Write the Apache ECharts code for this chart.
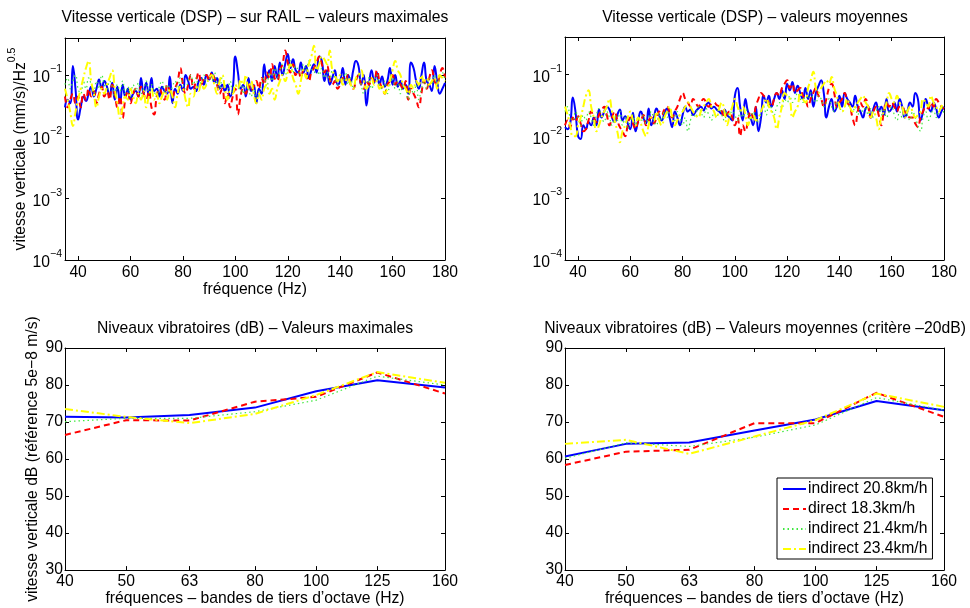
<!DOCTYPE html>
<html>
<head>
<meta charset="utf-8">
<script src="https://cdn.jsdelivr.net/npm/echarts@6/dist/echarts.min.js"></script>
<style>
  html, body { margin: 0; padding: 0; background: #ffffff; }
  #chart { width: 970px; height: 608px; }
</style>
</head>
<body>
<div id="chart"></div>
<script>
// Spectral lines: one value per Hz from 35 Hz to 180 Hz
const FREQ_START = 35;
const FREQ_STEP = 1;

// PSD of vertical velocity on the rail, maximum values, (mm/s)/Hz^0.5
const maxBlue = [
  .030,.040,.035,.140,.060,.019,.030,.045,.038,.050,
  .065,.045,.060,.085,.060,.080,.065,.045,.075,.040,
  .065,.035,.070,.045,.060,.040,.050,.055,.045,.090,
  .050,.075,.045,.090,.055,.060,.045,.065,.055,.050,
  .095,.035,.060,.050,.070,.055,.100,.080,.060,.065,
  .055,.080,.090,.070,.100,.085,.110,.075,.090,.060,
  .070,.055,.070,.045,.060,.200,.110,.060,.070,.045,
  .090,.055,.070,.035,.060,.050,.150,.090,.120,.080,
  .140,.090,.160,.100,.150,.220,.130,.180,.120,.110,
  .160,.110,.140,.090,.120,.150,.110,.200,.170,.080,
  .120,.070,.090,.120,.070,.080,.130,.070,.100,.080,
  .120,.170,.140,.070,.100,.032,.070,.120,.075,.110,
  .070,.095,.065,.080,.130,.070,.100,.065,.080,.060,
  .070,.050,.160,.130,.080,.060,.100,.160,.080,.070,
  .055,.140,.080,.050,.060,.075
];
const maxRed = [
  .045,.030,.040,.050,.035,.045,.030,.050,.040,.060,
  .045,.055,.035,.050,.065,.045,.055,.040,.070,.050,
  .030,.045,.020,.040,.055,.035,.050,.060,.045,.065,
  .050,.040,.055,.030,.023,.045,.060,.050,.040,.070,
  .055,.045,.060,.080,.130,.070,.050,.070,.100,.060,
  .080,.110,.070,.090,.100,.080,.110,.090,.070,.050,
  .060,.035,.050,.030,.045,.060,.023,.045,.060,.050,
  .070,.055,.065,.080,.060,.090,.070,.110,.090,.150,
  .090,.080,.120,.150,.250,.160,.110,.150,.100,.120,
  .090,.120,.100,.080,.110,.130,.160,.200,.150,.110,
  .140,.090,.070,.080,.060,.070,.090,.080,.100,.070,
  .060,.080,.100,.070,.060,.080,.070,.090,.080,.120,
  .080,.060,.050,.070,.080,.100,.070,.080,.070,.060,
  .080,.040,.060,.050,.040,.030,.050,.080,.060,.090,
  .120,.080,.070,.100,.130,.090
];
const maxGreen = [
  .070,.090,.060,.080,.100,.060,.050,.080,.060,.090,
  .070,.050,.080,.060,.100,.070,.055,.080,.065,.045,
  .070,.055,.080,.050,.065,.045,.070,.055,.075,.050,
  .060,.080,.050,.070,.055,.045,.065,.080,.055,.070,
  .050,.065,.080,.060,.090,.070,.060,.080,.100,.070,
  .090,.060,.080,.100,.070,.090,.080,.110,.070,.060,
  .090,.070,.060,.080,.050,.070,.060,.080,.050,.070,
  .060,.045,.060,.040,.050,.070,.090,.060,.110,.080,
  .130,.090,.120,.150,.100,.130,.170,.110,.140,.120,
  .100,.150,.120,.170,.130,.110,.140,.100,.130,.090,
  .110,.080,.120,.090,.070,.100,.080,.110,.070,.090,
  .060,.080,.100,.070,.050,.070,.090,.060,.080,.100,
  .070,.060,.080,.050,.070,.090,.060,.080,.050,.070,
  .060,.040,.060,.050,.070,.040,.060,.080,.060,.090,
  .070,.100,.070,.090,.110,.080
];
const maxYellow = [
  .060,.040,.025,.015,.025,.040,.060,.090,.130,.170,
  .080,.050,.030,.045,.060,.050,.070,.090,.120,.060,
  .035,.020,.030,.045,.040,.060,.045,.035,.050,.040,
  .055,.030,.045,.060,.040,.050,.035,.045,.055,.040,
  .060,.045,.030,.050,.065,.060,.040,.030,.050,.045,
  .065,.055,.080,.060,.070,.090,.100,.070,.050,.080,
  .100,.060,.040,.055,.050,.070,.060,.085,.070,.100,
  .060,.080,.050,.035,.050,.040,.060,.070,.050,.060,
  .040,.060,.080,.100,.080,.110,.150,.090,.070,.050,
  .080,.120,.090,.150,.200,.300,.120,.150,.200,.180,
  .150,.250,.120,.100,.080,.100,.070,.080,.090,.070,
  .060,.090,.100,.120,.080,.060,.070,.090,.070,.080,
  .060,.070,.050,.060,.080,.120,.170,.120,.100,.070,
  .060,.050,.070,.060,.080,.070,.100,.080,.090,.070,
  .080,.090,.060,.100,.090,.080
];

// PSD of vertical velocity, mean values, (mm/s)/Hz^0.5
const meanBlue = [
  .014,.013,.016,.042,.025,.010,.009,.015,.013,.017,
  .015,.020,.015,.027,.020,.025,.030,.027,.020,.017,
  .022,.027,.018,.021,.016,.013,.024,.012,.018,.025,
  .020,.016,.028,.015,.020,.028,.022,.018,.023,.028,
  .020,.014,.025,.020,.015,.022,.030,.025,.027,.022,
  .025,.028,.030,.026,.032,.035,.028,.030,.027,.025,
  .023,.027,.022,.020,.018,.045,.060,.030,.018,.040,
  .025,.020,.015,.030,.012,.020,.045,.035,.045,.030,
  .040,.050,.040,.055,.040,.070,.055,.075,.050,.065,
  .050,.040,.060,.040,.055,.030,.050,.065,.080,.050,
  .020,.030,.040,.025,.030,.045,.030,.050,.040,.035,
  .030,.045,.030,.025,.020,.028,.030,.020,.028,.035,
  .025,.030,.022,.040,.025,.028,.035,.025,.040,.030,
  .020,.025,.035,.030,.050,.040,.018,.025,.040,.030,
  .025,.035,.028,.020,.025,.030
];
const meanRed = [
  .015,.018,.014,.020,.017,.021,.016,.012,.013,.018,
  .025,.020,.017,.022,.026,.030,.022,.015,.020,.025,
  .018,.014,.012,.010,.015,.020,.016,.013,.017,.018,
  .022,.015,.018,.020,.016,.020,.025,.022,.027,.030,
  .025,.020,.025,.030,.040,.050,.040,.035,.030,.040,
  .035,.030,.035,.040,.035,.030,.033,.035,.032,.030,
  .025,.020,.023,.025,.020,.015,.020,.010,.015,.012,
  .018,.025,.020,.030,.040,.050,.045,.040,.035,.030,
  .040,.050,.045,.060,.070,.080,.060,.070,.050,.055,
  .060,.045,.040,.030,.040,.050,.060,.045,.040,.030,
  .040,.060,.070,.050,.030,.035,.040,.050,.035,.030,
  .020,.015,.025,.035,.030,.040,.030,.020,.025,.030,
  .022,.015,.025,.035,.030,.035,.030,.025,.030,.030,
  .025,.022,.020,.020,.016,.014,.020,.025,.030,.028,
  .035,.030,.040,.035,.030,.028
];
const meanGreen = [
  .025,.030,.020,.018,.025,.020,.015,.022,.018,.025,
  .020,.015,.022,.028,.020,.017,.025,.020,.015,.022,
  .018,.025,.015,.020,.013,.018,.022,.015,.020,.017,
  .022,.016,.020,.025,.018,.015,.022,.018,.025,.020,
  .028,.022,.018,.025,.020,.015,.020,.012,.018,.025,
  .020,.030,.025,.020,.028,.022,.018,.025,.020,.030,
  .022,.018,.025,.020,.028,.022,.018,.025,.020,.028,
  .022,.018,.025,.020,.017,.025,.030,.022,.035,.028,
  .022,.030,.035,.028,.040,.035,.045,.035,.040,.050,
  .040,.035,.045,.040,.050,.040,.035,.045,.040,.030,
  .035,.040,.030,.025,.035,.030,.025,.030,.035,.028,
  .025,.030,.022,.028,.025,.030,.022,.028,.020,.025,
  .030,.022,.028,.020,.025,.030,.022,.018,.025,.020,
  .028,.022,.018,.025,.020,.015,.012,.020,.025,.018,
  .022,.028,.020,.025,.030,.022
];
const meanYellow = [
  .030,.022,.015,.010,.010,.015,.020,.030,.045,.055,
  .030,.020,.012,.015,.020,.025,.030,.040,.025,.018,
  .012,.008,.012,.015,.020,.025,.018,.015,.020,.016,
  .012,.010,.015,.020,.018,.025,.018,.015,.020,.025,
  .030,.020,.015,.018,.022,.025,.030,.035,.030,.025,
  .022,.020,.025,.030,.035,.040,.030,.025,.020,.028,
  .035,.025,.015,.022,.030,.040,.030,.025,.030,.022,
  .015,.020,.022,.018,.020,.025,.032,.040,.030,.025,
  .020,.013,.020,.030,.050,.045,.040,.020,.025,.030,
  .050,.040,.035,.060,.080,.110,.060,.050,.060,.070,
  .080,.070,.090,.060,.045,.030,.025,.030,.040,.030,
  .025,.030,.035,.040,.045,.035,.030,.020,.025,.020,
  .013,.020,.025,.035,.050,.040,.035,.045,.035,.030,
  .020,.025,.030,.025,.020,.022,.025,.040,.035,.030,
  .045,.035,.030,.025,.030,.035
];

// Third-octave band levels, dB re 5e-8 m/s
const bands = [40, 50, 63, 80, 100, 125, 160];
const dbMaxBlue   = [71.4, 71.2, 71.9, 73.9, 78.3, 81.3, 79.3];
const dbMaxRed    = [66.5, 70.5, 70.4, 75.5, 76.8, 83.4, 77.7];
const dbMaxGreen  = [70.1, 71.0, 71.0, 72.8, 75.9, 82.4, 80.0];
const dbMaxYellow = [73.5, 71.4, 69.7, 72.2, 77.3, 83.5, 80.6];
const dbMeanBlue   = [60.7, 64.1, 64.5, 67.7, 70.7, 75.7, 73.2];
const dbMeanRed    = [58.4, 62.0, 62.5, 69.7, 69.7, 77.9, 71.4];
const dbMeanGreen  = [60.2, 64.4, 63.4, 65.9, 69.2, 76.6, 73.2];
const dbMeanYellow = [64.1, 65.2, 61.4, 66.1, 70.5, 77.7, 74.1];

const seriesNames = ['indirect 20.8km/h', 'direct 18.3km/h', 'indirect 21.4km/h', 'indirect 23.4km/h'];
const freqTicks = [40, 60, 80, 100, 120, 140, 160, 180];
const decadeTicks = [1e-4, 1e-3, 1e-2, 1e-1];

const FONT = 'Liberation Sans, Arial, Helvetica, sans-serif';
const FS = 15.7;

const lineStyles = [
  { color: '#0000ff', type: 'solid', width: 2 },
  { color: '#ff0000', type: [6, 4], width: 2 },
  { color: '#3fe83f', type: [1.5, 3], width: 1.2 },
  { color: '#ffff00', type: [8, 3, 2, 3], width: 2 }
];

const grids = [
  { left: 65,  top: 38,  width: 380, height: 222 },
  { left: 565, top: 37,  width: 379, height: 223 },
  { left: 65,  top: 348, width: 380, height: 223 },
  { left: 565, top: 348, width: 379, height: 223 }
];

const black = { color: '#000000', width: 1 };

function supExp(v) {
  const e = Math.round(Math.log10(v));
  return '{b|10}{s|' + (e < 0 ? '\u2212' + (-e) : String(e)) + '}';
}

const richTick = {
  b: { fontSize: FS, fontFamily: FONT, color: '#000', lineHeight: 22, verticalAlign: 'bottom' },
  s: { fontSize: 10.5, fontFamily: FONT, color: '#000', lineHeight: 22, verticalAlign: 'top' }
};

function freqAxis(gi, pos, labels, name) {
  return {
    type: 'value', gridIndex: gi, position: pos, min: 35, max: 180,
    axisLine: { show: true, onZero: false, lineStyle: black },
    axisTick: { show: true, inside: true, length: 4, customValues: freqTicks, lineStyle: black },
    axisLabel: { show: labels, customValues: freqTicks, margin: 5, color: '#000', fontSize: FS, fontFamily: FONT },
    splitLine: { show: false },
    name: name || '', nameLocation: 'middle', nameGap: 18,
    nameTextStyle: { color: '#000', fontSize: FS, fontFamily: FONT }
  };
}

function psdAxis(gi, pos, labels, name) {
  return {
    type: 'log', logBase: 10, gridIndex: gi, position: pos, min: 1e-4, max: 0.4,
    axisLine: { show: true, onZero: false, lineStyle: black },
    axisTick: { show: true, inside: true, length: 4, customValues: decadeTicks, lineStyle: black },
    axisLabel: { show: labels, customValues: decadeTicks, margin: 3, formatter: supExp, rich: richTick },
    splitLine: { show: false },
    name: name || '', nameLocation: 'middle', nameRotate: 90, nameGap: 33,
    nameTextStyle: {
      rich: {
        n: { fontSize: FS, fontFamily: FONT, color: '#000', lineHeight: 22, verticalAlign: 'bottom' },
        s: { fontSize: 10.5, fontFamily: FONT, color: '#000', lineHeight: 22, verticalAlign: 'top' }
      }
    }
  };
}

function bandAxis(gi, pos, labels, name) {
  return {
    type: 'log', logBase: 10, gridIndex: gi, position: pos, min: 40, max: 160,
    axisLine: { show: true, onZero: false, lineStyle: black },
    axisTick: { show: true, inside: true, length: 4, customValues: bands, lineStyle: black },
    axisLabel: { show: labels, customValues: bands, margin: 4, color: '#000', fontSize: FS, fontFamily: FONT },
    splitLine: { show: false },
    name: name || '', nameLocation: 'middle', nameGap: 19,
    nameTextStyle: { color: '#000', fontSize: FS, fontFamily: FONT }
  };
}

function dbAxis(gi, pos, labels, name) {
  return {
    type: 'value', gridIndex: gi, position: pos, min: 30, max: 90, interval: 10,
    axisLine: { show: true, onZero: false, lineStyle: black },
    axisTick: { show: true, inside: true, length: 4, lineStyle: black },
    axisLabel: { show: labels, margin: 2, color: '#000', fontSize: FS, fontFamily: FONT },
    splitLine: { show: false },
    name: name || '', nameLocation: 'middle', nameRotate: 90, nameGap: 24,
    nameTextStyle: { color: '#000', fontSize: FS, fontFamily: FONT }
  };
}

const xAxes = [
  freqAxis(0, 'bottom', true, 'fr\u00e9quence (Hz)'),
  freqAxis(1, 'bottom', true),
  bandAxis(2, 'bottom', true, 'fr\u00e9quences \u2013 bandes de tiers d\u2019octave (Hz)'),
  bandAxis(3, 'bottom', true, 'fr\u00e9quences \u2013 bandes de tiers d\u2019octave (Hz)'),
  freqAxis(0, 'top', false),
  freqAxis(1, 'top', false),
  bandAxis(2, 'top', false),
  bandAxis(3, 'top', false)
];
const yAxes = [
  psdAxis(0, 'left', true, '{n|vitesse verticale (mm/s)/Hz}{s|0.5}'),
  psdAxis(1, 'left', true),
  dbAxis(2, 'left', true, 'vitesse verticale dB (r\u00e9f\u00e9rence 5e\u22128 m/s)'),
  dbAxis(3, 'left', true),
  psdAxis(0, 'right', false),
  psdAxis(1, 'right', false),
  dbAxis(2, 'right', false),
  dbAxis(3, 'right', false)
];

function spectrum(values) {
  return values.map((v, i) => [FREQ_START + i * FREQ_STEP, v]);
}
function bandLevels(values) {
  return values.map((v, i) => [bands[i], v]);
}

const panels = [
  { grid: 0, sets: [maxBlue, maxRed, maxGreen, maxYellow], build: spectrum, smooth: 0.5 },
  { grid: 1, sets: [meanBlue, meanRed, meanGreen, meanYellow], build: spectrum, smooth: 0.5 },
  { grid: 2, sets: [dbMaxBlue, dbMaxRed, dbMaxGreen, dbMaxYellow], build: bandLevels, smooth: false },
  { grid: 3, sets: [dbMeanBlue, dbMeanRed, dbMeanGreen, dbMeanYellow], build: bandLevels, smooth: false }
];

const series = [];
panels.forEach(p => {
  p.sets.forEach((vals, k) => {
    series.push({
      type: 'line', name: seriesNames[k],
      xAxisIndex: p.grid, yAxisIndex: p.grid,
      data: p.build(vals),
      symbol: 'none', smooth: p.smooth,
      lineStyle: Object.assign({}, lineStyles[k]),
      itemStyle: { color: lineStyles[k].color },
      animation: false, clip: true
    });
  });
});

const titleStyle = { color: '#000', fontSize: FS, fontWeight: 'normal', fontFamily: FONT };
const titles = [
  { text: 'Vitesse verticale (DSP) \u2013 sur RAIL \u2013 valeurs maximales', left: 255, top: 10 },
  { text: 'Vitesse verticale (DSP) \u2013 valeurs moyennes', left: 755, top: 10 },
  { text: 'Niveaux vibratoires (dB) \u2013 Valeurs maximales', left: 255, top: 321 },
  { text: 'Niveaux vibratoires (dB) \u2013 Valeurs moyennes (crit\u00e8re \u201320dB)', left: 755, top: 321 }
].map(t => Object.assign({ textAlign: 'center', padding: 0, textStyle: titleStyle }, t));

const chart = echarts.init(document.getElementById('chart'), null, { renderer: 'canvas' });
chart.setOption({
  backgroundColor: '#ffffff',
  animation: false,
  title: titles,
  grid: grids,
  xAxis: xAxes,
  yAxis: yAxes,
  legend: {
    data: seriesNames,
    orient: 'vertical',
    left: 777, top: 478,
    itemWidth: 23, itemHeight: 14, itemGap: 4,
    padding: [3, 5, 2, 5],
    borderColor: '#000', borderWidth: 1, backgroundColor: '#ffffff',
    itemStyle: { opacity: 0 },
    textStyle: { color: '#000', fontSize: FS, fontFamily: FONT, padding: [0, 0, 0, -3] },
    selectedMode: false
  },
  series: series
});
</script>
</body>
</html>
